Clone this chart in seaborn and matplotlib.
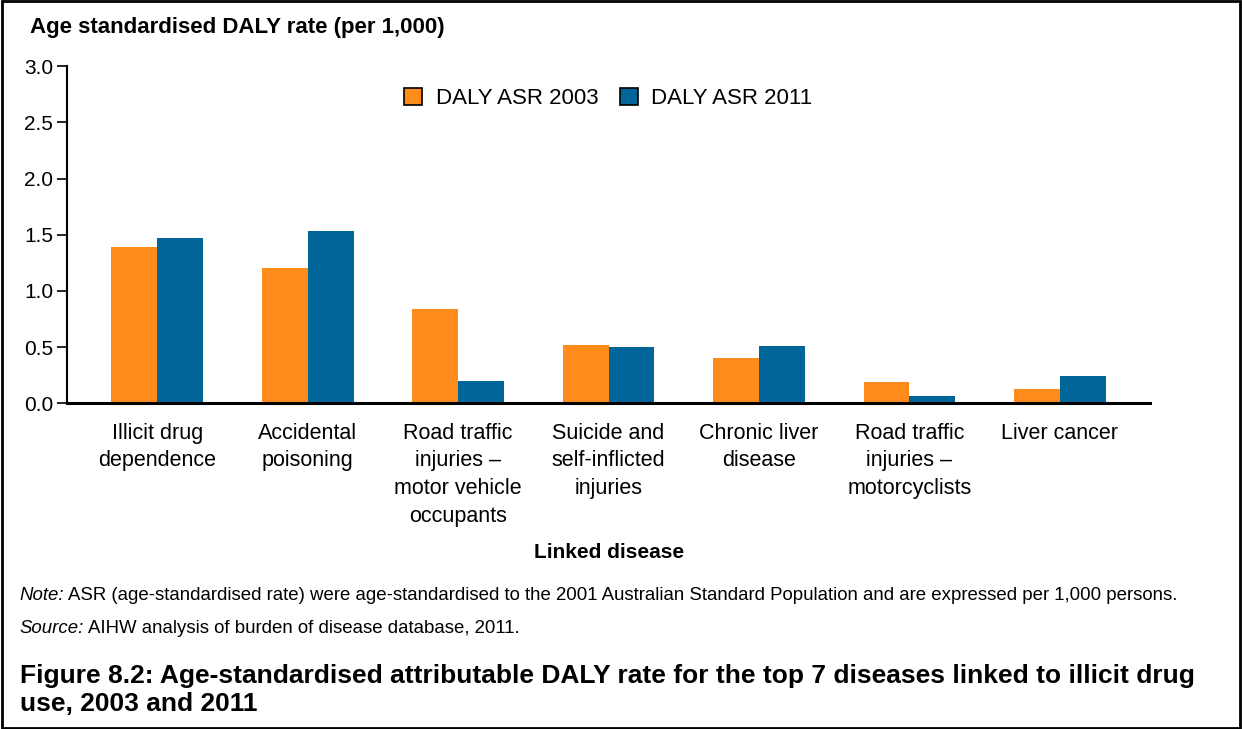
import matplotlib
matplotlib.use("Agg")
import matplotlib.pyplot as plt
import pandas as pd
import seaborn as sns
from matplotlib.patches import Rectangle

# data
diseases = [
    "Illicit drug\ndependence",
    "Accidental\npoisoning",
    "Road traffic\ninjuries \u2013\nmotor vehicle\noccupants",
    "Suicide and\nself-inflicted\ninjuries",
    "Chronic liver\ndisease",
    "Road traffic\ninjuries \u2013\nmotorcyclists",
    "Liver cancer",
]
daly_2003 = [1.39, 1.20, 0.84, 0.52, 0.40, 0.19, 0.13]
daly_2011 = [1.47, 1.53, 0.20, 0.50, 0.51, 0.06, 0.24]
series = ["DALY ASR 2003", "DALY ASR 2011"]
colors = ["#FF8C1A", "#006699"]
yticks = [0.0, 0.5, 1.0, 1.5, 2.0, 2.5, 3.0]

df = pd.DataFrame({
    "disease": diseases * 2,
    "rate": daly_2003 + daly_2011,
    "series": [series[0]] * len(diseases) + [series[1]] * len(diseases),
})

sns.set_theme(style="white")
plt.rcParams["font.family"] = ["Liberation Sans", "DejaVu Sans"]
plt.rcParams["text.color"] = "black"
plt.rcParams["axes.labelcolor"] = "black"
plt.rcParams["xtick.color"] = "black"
plt.rcParams["ytick.color"] = "black"

fig = plt.figure(figsize=(12.42, 7.29), dpi=100)
ax = fig.add_axes([0.054, 0.447, 0.872, 0.462])

sns.barplot(data=df, x="disease", y="rate", hue="series", palette=colors,
            width=0.61, saturation=1, linewidth=0, ax=ax, legend=True)

ax.set_ylim(0, 3.0)
ax.set_xlim(-0.6, 6.6)
ax.set_yticks(yticks)
ax.set_yticklabels([f"{t:.1f}" for t in yticks])
ax.tick_params(axis="y", direction="out", length=7, width=1.2, color="black",
               labelsize=15, pad=3, left=True)
ax.tick_params(axis="x", length=0, labelsize=15.5, pad=14)
for lab in ax.get_xticklabels():
    lab.set_linespacing(1.42)
    lab.set_verticalalignment("top")

for side in ["top", "right"]:
    ax.spines[side].set_visible(False)
ax.spines["left"].set_color("black")
ax.spines["left"].set_linewidth(1.5)
ax.spines["bottom"].set_color("black")
ax.spines["bottom"].set_linewidth(2.2)

ax.set_xlabel("Linked disease", fontsize=15, fontweight="bold", labelpad=12)
ax.set_ylabel("")

handles, labels = ax.get_legend_handles_labels()
for h in handles:
    h.set_edgecolor("black")
    h.set_linewidth(1.2)
ax.legend(handles, labels, loc="upper center", bbox_to_anchor=(0.5, 0.995),
          ncol=2, frameon=False, fontsize=16, handlelength=0.8,
          handleheight=0.8, handletextpad=0.6, columnspacing=1.0)

fig.text(0.024, 0.962, "Age standardised DALY rate (per 1,000)",
         fontsize=16, fontweight="bold", va="center", ha="left")

fig.canvas.draw()
renderer = fig.canvas.get_renderer()


def note_line(y, lead, body):
    t = fig.text(0.016, y, lead, fontsize=13.4, style="italic", va="center")
    x1 = t.get_window_extent(renderer).x1 / fig.bbox.width
    fig.text(x1 + 0.003, y, body, fontsize=13.4, va="center")


note_line(0.183, "Note:",
          "ASR (age-standardised rate) were age-standardised to the 2001 "
          "Australian Standard Population and are expressed per 1,000 persons.")
note_line(0.138, "Source:", "AIHW analysis of burden of disease database, 2011.")

fig.text(0.016, 0.054,
         "Figure 8.2: Age-standardised attributable DALY rate for the top 7 "
         "diseases linked to illicit drug\nuse, 2003 and 2011",
         fontsize=19, fontweight="bold", va="center", linespacing=1.22)

fig.add_artist(Rectangle((0.002, 0.002), 0.996, 0.996, transform=fig.transFigure,
                         fill=False, edgecolor="black", linewidth=2))

fig.savefig("out.png", dpi=100, facecolor="white")
